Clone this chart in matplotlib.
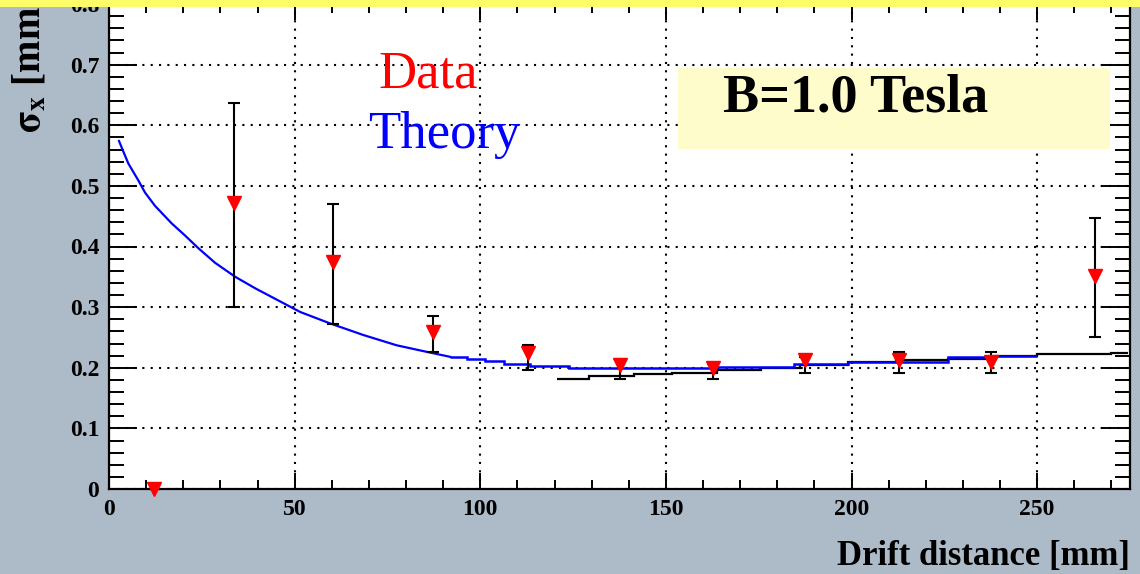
import matplotlib
matplotlib.use("Agg")
from matplotlib import pyplot as plt
from matplotlib.ticker import MultipleLocator, FuncFormatter
from matplotlib.patches import Rectangle
import numpy as np

# measured points
data_x = [12.1, 33.7, 60.4, 87.3, 112.9, 137.5, 162.8, 187.5, 212.7, 237.5, 265.5]
data_y = [0.0, 0.471, 0.374, 0.259, 0.224, 0.204, 0.199, 0.212, 0.212, 0.209, 0.351]
err_top = [0.0, 0.637, 0.470, 0.285, 0.237, 0.214, 0.207, 0.217, 0.226, 0.226, 0.447]
err_bot = [0.0, 0.300, 0.272, 0.226, 0.196, 0.181, 0.181, 0.191, 0.191, 0.191, 0.250]

# theory curve (smooth part, then binned part)
theory_x = [2.7, 3.9, 5.2, 7.9, 9.7, 12.4, 16.9, 20.5, 24.1, 28.6, 34.0, 39.4,
            45.6, 51.5, 59.6, 68.5, 77.5, 86.5, 91.9]
theory_y = [0.574, 0.556, 0.537, 0.509, 0.489, 0.467, 0.438, 0.418, 0.397, 0.373,
            0.350, 0.331, 0.311, 0.292, 0.273, 0.254, 0.237, 0.225, 0.218]
theory_edges = [91.9, 96.4, 101.3, 106.3, 113.5, 123.8, 163.0, 184.4, 199.0, 226.0, 239.0, 250.0]
theory_vals = [0.218, 0.214, 0.211, 0.207, 0.203, 0.200, 0.202, 0.207, 0.210, 0.217, 0.220]

# black histogram
hist_edges = [120.7, 129.2, 141.3, 151.7, 163.8, 175.5, 186.0, 199.0, 212.0, 226.0,
              239.0, 250.0, 270.0, 274.5]
hist_vals = [0.181, 0.187, 0.189, 0.192, 0.196, 0.199, 0.205, 0.209, 0.212, 0.215,
             0.219, 0.222, 0.225]

plt.rcParams['font.family'] = ['Liberation Serif', 'DejaVu Serif']
plt.rcParams['mathtext.fontset'] = 'stix'

fig = plt.figure(figsize=(11.4, 5.74), dpi=100, facecolor='#adbac7')
ax = fig.add_axes([109 / 1140, 1 - 489 / 574, 1021 / 1140, 485 / 574])
ax.set_facecolor('white')

ax.set_xlim(0, 275)
ax.set_ylim(0, 0.8)

ax.grid(True, which='major', color='black', linestyle=(0, (1, 3)), linewidth=1.5)
ax.set_axisbelow(True)

ax.stairs(hist_vals, hist_edges, baseline=None, color='black', linewidth=1.6, zorder=3)
ax.plot(theory_x, theory_y, color='blue', linewidth=1.6, zorder=4)
ax.stairs(theory_vals, theory_edges, baseline=None, color='blue', linewidth=1.8, zorder=4)

yerr = [np.array(data_y) - np.array(err_bot), np.array(err_top) - np.array(data_y)]
ax.errorbar(data_x, data_y, yerr=yerr, fmt='none', ecolor='black', elinewidth=1.5,
            capsize=4.5, capthick=1.5, zorder=5, clip_on=False)
ax.plot(data_x, data_y, 'v', color='red', markersize=10, zorder=6, clip_on=False)

ax.xaxis.set_major_locator(MultipleLocator(50))
ax.xaxis.set_minor_locator(MultipleLocator(10))
ax.yaxis.set_major_locator(MultipleLocator(0.1))
ax.yaxis.set_minor_locator(MultipleLocator(0.02))
ax.yaxis.set_major_formatter(FuncFormatter(lambda v, p: '0' if abs(v) < 1e-9 else '%.1f' % v))

ax.tick_params(axis='both', which='both', direction='in', top=True, right=True,
               width=1.4, colors='black', labelsize=17)
ax.tick_params(axis='y', which='major', length=20, pad=7)
ax.tick_params(axis='y', which='minor', length=11)
ax.tick_params(axis='x', which='major', length=11.5, pad=7)
ax.tick_params(axis='x', which='minor', length=6.5)
for lab in ax.get_xticklabels() + ax.get_yticklabels():
    lab.set_fontweight('bold')

for s in ax.spines.values():
    s.set_linewidth(1.6)

ax.text(1.0, -0.157, 'Drift distance [mm]', transform=ax.transAxes, ha='right',
        va='baseline', fontsize=25, fontweight='bold')
ax.text(-0.077, (489 - 133) / 485, r'$\mathbf{\sigma_{x}}$ [mm]', transform=ax.transAxes,
        ha='center', va='bottom', rotation=90, fontsize=28, fontweight='bold')

# labels
ax.text((378 - 109) / 1021, (489 - 88) / 485, 'Data', transform=ax.transAxes,
        color='red', fontsize=38, va='baseline', ha='left')
ax.text((368 - 109) / 1021, (489 - 148) / 485, 'Theory', transform=ax.transAxes,
        color='blue', fontsize=38, va='baseline', ha='left')

box = Rectangle((0.557, 0.701), 0.423, 0.167, transform=ax.transAxes,
                facecolor='#fffccc', edgecolor='none', zorder=2)
ax.add_patch(box)
ax.text((723 - 109) / 1021, (489 - 112) / 485, 'B=1.0 Tesla', transform=ax.transAxes,
        fontsize=39, fontweight='bold', va='baseline', ha='left', zorder=3)

# yellow band at the top
fig.patches.append(Rectangle((0, 1 - 7 / 574), 1, 7 / 574, transform=fig.transFigure,
                             facecolor='#fdfd6a', edgecolor='none', zorder=10))

fig.savefig('out.png', dpi=100, facecolor=fig.get_facecolor())
